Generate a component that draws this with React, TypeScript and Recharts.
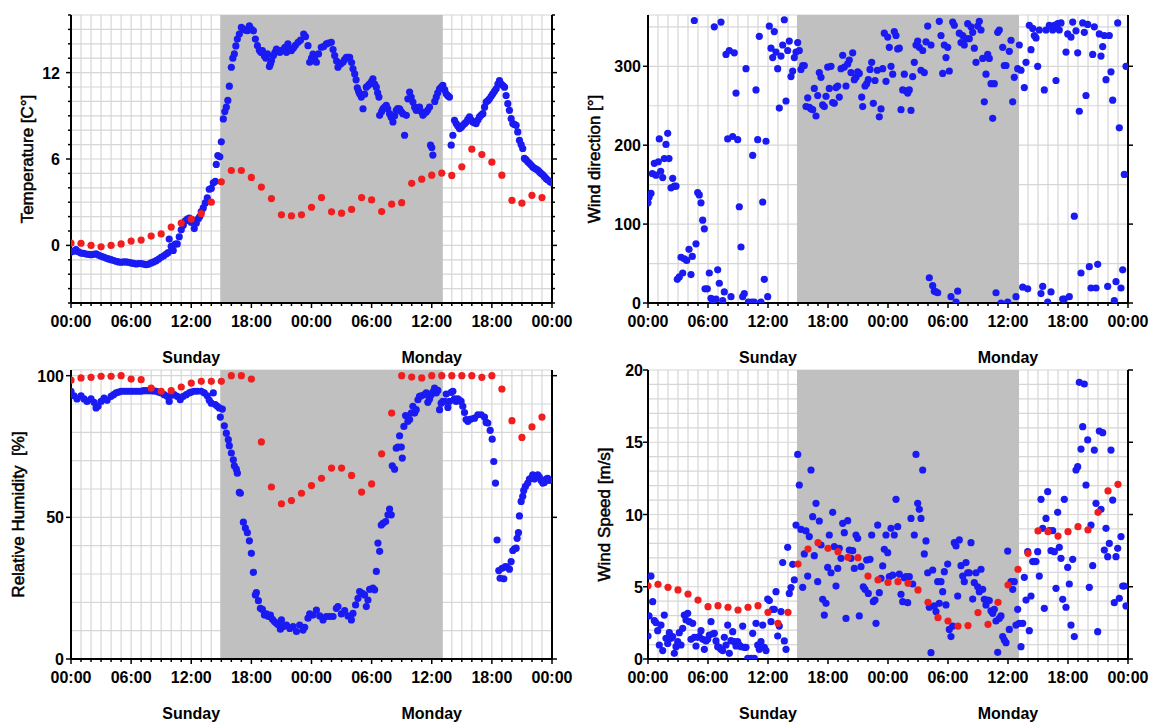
import {
  ScatterChart, Scatter, XAxis, YAxis, CartesianGrid, ReferenceArea, Label,
} from 'recharts';

const FONT = '"Liberation Sans", Arial, Helvetica, sans-serif';
const BLUE = '#1a1af2';
const RED = '#f01e1e';

// time axis: hours since Sunday 00:00
const hourTicks = Array.from({ length: 49 }, (_, i) => i);
const topTicks = [0, 12, 24, 36, 48];
const dayNames = ['Sunday', 'Monday'];
const shadeStart = 14.9;
const shadeEnd = 37.1;

type Pt = [number, number];

// hourly values (red), index = hour
const tempHourly = [
  0.16, 0.15, 0.0, -0.1, 0.0, 0.1, 0.3, 0.37, 0.65, 0.8, 1.27, 1.55, 1.82, 2.2, 3.0, 4.42,
  5.2, 5.2, 4.72, 4.05, 3.25, 2.12, 2.05, 2.12, 2.65, 3.32, 2.33, 2.24, 2.5, 3.32, 3.16, 2.35,
  2.86, 2.97, 4.31, 4.6, 4.88, 5.02, 4.86, 5.46, 6.68, 6.31, 5.78, 4.88, 3.13, 2.93, 3.48, 3.32,
];
const humHourly = [
  98.4, 99.2, 99.4, 99.8, 99.8, 100, 98.8, 98.6, 95.6, 94.5, 94.7, 96, 97.4, 98, 98, 98,
  100, 100, 98.8, 76.6, 60.7, 54.8, 55.9, 58.5, 61.2, 63.8, 67.4, 67.4, 64.8, 58.9, 61.8, 72.4,
  86.8, 100, 99.5, 99.2, 100, 100, 100, 100, 100, 99.4, 100, 95.3, 84.1, 78.2, 81.9, 85.4,
];
const windHourly = [
  5.07, 5.17, 4.96, 4.78, 4.5, 4.08, 3.62, 3.69, 3.58, 3.39, 3.58, 3.69, 3.23, 2.47, 3.23, 6.57,
  7.61, 8.05, 7.66, 7.43, 7.04, 7.01, 5.74, 5.47, 5.3, 5.35, 5.24, 4.78, 3.92, 2.86, 2.63, 2.28,
  2.31, 3.21, 2.4, 3.92, 5.12, 6.21, 7.31, 8.86, 8.81, 8.51, 8.81, 9.16, 8.93, 10.15, 11.63, 12.09,
];

// station readings (blue), [hour, value]
const tempFine: Pt[] = [
  [0, -0.46], [0.25, -0.4], [0.5, -0.3], [0.75, -0.45], [1, -0.53], [1.25, -0.55], [1.5, -0.6], [1.75, -0.62],
  [2, -0.65], [2.25, -0.62], [2.5, -0.58], [2.75, -0.68], [3, -0.76], [3.25, -0.82], [3.5, -0.88], [3.75, -0.94],
  [4, -0.99], [4.25, -1.05], [4.5, -1.1], [4.75, -1.15], [5, -1.17], [5.25, -1.15], [5.5, -1.15], [5.75, -1.18],
  [6, -1.22], [6.25, -1.25], [6.5, -1.29], [6.75, -1.26], [7, -1.27], [7.25, -1.3], [7.5, -1.34], [7.75, -1.3],
  [8, -1.22], [8.25, -1.15], [8.5, -1.06], [8.75, -0.95], [9, -0.83], [9.25, -0.72], [9.5, -0.6], [9.7, -0.5],
  [9.8, 0.44], [10, -0.07], [10.2, -0.35], [10.4, 0.09], [10.6, 0.1], [10.8, 0.6], [11, 1.08], [11.2, 1.4],
  [11.4, 1.7], [11.6, 1.82], [11.8, 1.9], [12, 1.59], [12.15, 1.75], [12.3, 1.17], [12.5, 1.54], [12.7, 1.85],
  [12.85, 2.0], [13, 2.35], [13.2, 2.6], [13.4, 2.95], [13.6, 3.3], [13.8, 3.9], [14, 3.96], [14.2, 4.35],
  [14.4, 4.45], [14.5, 5.62], [14.65, 6.24], [14.85, 6.15], [15, 7.19], [15.2, 8.78], [15.35, 9.3], [15.5, 9.6],
  [15.65, 10.07], [15.8, 11.06], [16, 12.37], [16.15, 13.0], [16.3, 13.3], [16.45, 13.85], [16.6, 14.33], [16.8, 14.68],
  [17, 15.14], [17.2, 15.02], [17.4, 14.95], [17.6, 14.91], [17.8, 15.25], [18, 15.02], [18.2, 14.9], [18.4, 14.33],
  [18.6, 13.87], [18.8, 13.55], [18.95, 13.41], [19.1, 13.53], [19.3, 13.15], [19.45, 13.0], [19.6, 13.3], [19.8, 12.42],
  [19.9, 12.6], [20, 12.83], [20.2, 13.18], [20.35, 13.4], [20.5, 13.64], [20.7, 13.5], [20.85, 13.41], [21, 13.53],
  [21.2, 13.6], [21.35, 13.76], [21.5, 13.41], [21.65, 14.0], [21.8, 13.7], [22, 13.53], [22.2, 13.7], [22.4, 13.9],
  [22.66, 14.1], [22.9, 14.25], [23.22, 14.68], [23.4, 14.5], [23.65, 13.87], [23.82, 12.72], [24, 13.0], [24.15, 13.29],
  [24.3, 13.0], [24.49, 12.72], [24.7, 13.3], [24.98, 13.76], [25.2, 13.8], [25.48, 13.99], [25.7, 14.05], [25.98, 14.1],
  [26.15, 13.6], [26.31, 13.18], [26.5, 12.8], [26.64, 12.37], [26.9, 12.6], [27.14, 12.72], [27.3, 12.9], [27.48, 13.06],
  [27.65, 13.06], [27.81, 13.06], [28, 12.7], [28.14, 12.26], [28.31, 11.91], [28.45, 11.5], [28.57, 10.94], [28.7, 10.7],
  [28.8, 10.53], [28.97, 10.3], [29.14, 9.49], [29.3, 10.5], [29.47, 10.99], [29.65, 11.1], [29.8, 11.22], [30, 11.4],
  [30.13, 11.57], [30.3, 11.2], [30.47, 10.99], [30.6, 10.6], [30.73, 10.3], [30.8, 9.03], [31, 9.3], [31.13, 9.49],
  [31.3, 9.6], [31.46, 9.72], [31.6, 9.5], [31.79, 9.15], [31.95, 8.9], [32.13, 8.57], [32.3, 9.0], [32.46, 9.38],
  [32.6, 9.5], [32.79, 9.49], [32.95, 9.3], [33.12, 9.15], [33.29, 7.65], [33.46, 9.03], [33.62, 10.18], [33.79, 10.65],
  [33.95, 10.3], [34.12, 9.95], [34.3, 9.6], [34.45, 9.38], [34.6, 9.5], [34.78, 9.61], [34.95, 9.3], [35.12, 9.03],
  [35.3, 9.2], [35.45, 9.26], [35.6, 9.4], [35.78, 9.61], [35.88, 6.96], [36, 6.8], [36.11, 6.27], [36.3, 10.0],
  [36.45, 10.3], [36.6, 10.6], [36.78, 10.88], [36.95, 11.0], [37.11, 11.11], [37.3, 10.8], [37.44, 10.53], [37.6, 10.4],
  [37.77, 10.3], [37.94, 6.96], [38.11, 7.65], [38.27, 8.69], [38.44, 8.46], [38.6, 8.3], [38.77, 8.11], [38.95, 8.2],
  [39.1, 8.34], [39.27, 8.45], [39.44, 8.57], [39.6, 8.75], [39.77, 8.92], [39.95, 8.7], [40.1, 8.57], [40.27, 8.5],
  [40.43, 8.46], [40.6, 8.7], [40.76, 8.92], [40.93, 9.05], [41.1, 9.15], [41.27, 9.6], [41.43, 9.95], [41.6, 10.05],
  [41.76, 10.18], [41.93, 10.35], [42.09, 10.53], [42.26, 10.7], [42.43, 10.88], [42.6, 11.2], [42.76, 11.45], [42.92, 11.22],
  [43.1, 11.1], [43.26, 10.99], [43.42, 10.41], [43.59, 9.84], [43.75, 9.38], [43.92, 8.8], [44.09, 8.46], [44.25, 8.4],
  [44.42, 8.34], [44.58, 7.88], [44.75, 7.3], [44.92, 7.0], [45.08, 6.73], [45.25, 6.04], [45.4, 5.95], [45.58, 5.81],
  [45.75, 5.7], [45.91, 5.58], [46.08, 5.45], [46.25, 5.35], [46.4, 5.3], [46.58, 5.23], [46.75, 5.1], [46.91, 5.0],
  [47.08, 4.9], [47.24, 4.77], [47.4, 4.65], [47.57, 4.54], [47.8, 4.42], [48, 4.35],
];

const humFine: Pt[] = [
  [0, 94.5], [0.3, 92.9], [0.6, 91.8], [1, 92.9], [1.3, 91.8], [1.6, 90.9], [2, 91.8], [2.3, 90.6],
  [2.5, 88.6], [2.7, 89.2], [3, 90.9], [3.3, 92.1], [3.6, 91.3], [4, 92.7], [4.25, 93.3], [4.5, 93.9],
  [4.75, 94.2], [5, 94.5], [5.25, 94.5], [5.5, 94.5], [5.75, 94.5], [6, 94.5], [6.25, 94.5], [6.5, 94.5],
  [6.75, 94.5], [7, 94.5], [7.25, 94.7], [7.5, 94.7], [7.75, 94.7], [8, 94.7], [8.25, 94.6], [8.5, 94.5],
  [8.75, 94.2], [9, 93.9], [9.3, 93.3], [9.6, 92.7], [9.8, 90.9], [10, 93.1], [10.3, 93.3], [10.6, 92.7],
  [10.9, 91.5], [11.2, 92.7], [11.5, 93.3], [11.8, 93.9], [12, 94.2], [12.3, 94.5], [12.6, 94.5], [13, 94.5],
  [13.3, 93.9], [13.6, 92.9], [13.8, 91.3], [14, 90.3], [14.2, 93.9], [14.4, 89.8], [14.6, 89.2], [14.8, 88.6],
  [14.9, 85.4], [15.1, 88.2], [15.3, 82.3], [15.5, 79.7], [15.7, 77.4], [15.8, 75.3], [16, 72.7], [16.2, 70.3],
  [16.3, 68.2], [16.5, 67], [16.6, 65.6], [16.8, 58.8], [16.9, 58.5], [17.2, 48.3], [17.4, 46.2], [17.6, 44.6],
  [17.8, 41.7], [18, 37.3], [18.2, 30.6], [18.4, 22.6], [18.5, 23.4], [18.7, 20.6], [18.9, 17.9], [19.1, 17.5],
  [19.3, 15.5], [19.5, 15.9], [19.7, 15], [19.9, 15.5], [20.1, 14], [20.3, 13.2], [20.5, 12.6], [20.7, 12],
  [20.9, 10.5], [21, 13.8], [21.16, 11.4], [21.5, 12], [21.83, 10.8], [22.16, 11.4], [22.5, 9.7], [22.82, 12],
  [23.16, 10.2], [23.32, 11.2], [23.65, 14.4], [23.82, 15.9], [24.15, 15.5], [24.49, 17.3], [24.82, 15.2], [25.15, 13.8],
  [25.48, 15], [25.81, 15], [26.15, 15], [26.48, 17.9], [26.64, 18.5], [26.98, 15.9], [27.31, 17.1], [27.64, 15.2],
  [27.98, 13.8], [28.14, 16.1], [28.4, 19.1], [28.64, 21.4], [28.8, 23.8], [29.07, 23.2], [29.3, 22.6], [29.47, 18.5],
  [29.63, 20.8], [29.8, 24.6], [30.13, 25], [30.3, 24.4], [30.47, 30.9], [30.63, 40.9], [30.8, 38], [30.96, 47.3],
  [31.13, 47.9], [31.4, 48.5], [31.63, 50.9], [31.79, 52.9], [31.96, 50.9], [32.06, 68.2], [32.29, 67], [32.46, 74.4],
  [32.62, 74.8], [32.79, 78.8], [32.96, 74.8], [33.06, 70.9], [33.22, 82.1], [33.39, 85.9], [33.62, 83.9], [33.79, 84.5],
  [33.95, 86.8], [34.12, 89.2], [34.29, 86.8], [34.45, 88], [34.62, 91.5], [34.78, 92.7], [34.95, 92.9], [35.28, 93.3],
  [35.45, 93.9], [35.61, 90.6], [35.78, 91.8], [35.95, 93.3], [36.11, 94.2], [36.28, 95.6], [36.45, 93.9], [36.61, 94.8],
  [36.78, 88], [36.94, 90.3], [37.11, 90.9], [37.28, 90.9], [37.44, 93.5], [37.61, 88.8], [37.77, 90.9], [37.94, 94.1],
  [38.11, 94.5], [38.27, 91.8], [38.44, 90.9], [38.6, 91.8], [38.77, 91.3], [38.93, 90.9], [39.1, 89.2], [39.27, 87],
  [39.43, 84.5], [39.6, 83.9], [39.77, 84.5], [39.93, 84.7], [40.27, 85], [40.6, 86.2], [40.93, 86.2], [41.26, 85.4],
  [41.43, 83.5], [41.59, 83.3], [41.83, 80.7], [42.03, 77.6], [42.19, 69.7], [42.36, 62.1], [42.52, 42], [42.69, 31.2],
  [42.82, 28.5], [43.02, 32], [43.19, 28.3], [43.35, 32.6], [43.52, 32.4], [43.75, 31.7], [43.92, 34.4], [44.09, 38.3],
  [44.25, 38.9], [44.42, 39.1], [44.52, 42.6], [44.65, 44.6], [44.75, 50.5], [44.92, 55.6], [45.08, 57.4], [45.18, 59.5],
  [45.35, 60.9], [45.58, 62.1], [45.75, 63.5], [45.91, 63.8], [46.08, 65], [46.25, 63.5], [46.41, 64.4], [46.58, 65],
  [46.74, 64.2], [46.91, 63], [47.08, 62.1], [47.24, 62.3], [47.41, 63.5], [47.57, 63.8], [47.74, 63],
];

const dirFine: Pt[] = [
  [0, 127], [0.1, 134], [0.3, 139], [0.43, 164], [0.63, 177], [0.8, 162], [1.03, 179], [1.13, 208],
  [1.27, 167], [1.47, 159], [1.63, 183], [1.8, 201], [1.97, 215], [2.1, 183], [2.3, 146], [2.47, 158],
  [2.63, 148], [2.8, 148], [2.93, 30], [3.13, 33], [3.3, 58], [3.47, 38], [3.63, 56], [3.87, 54],
  [4.1, 68], [4.3, 36], [4.43, 59], [4.63, 358], [4.8, 75], [4.97, 140], [5.13, 137], [5.3, 127],
  [5.47, 105], [5.63, 94], [5.7, 18], [5.93, 18], [6.13, 38], [6.3, 6], [6.47, 3], [6.63, 350],
  [6.8, 5], [6.97, 42], [7.13, 25], [7.3, 356], [7.47, 3], [7.63, 14], [7.8, 315], [7.97, 208],
  [8.13, 320], [8.3, 8], [8.47, 211], [8.63, 317], [8.8, 266], [8.97, 207], [9.13, 122], [9.3, 71],
  [9.47, 8], [9.63, 12], [9.8, 297], [10.03, 1], [10.37, 1], [10.47, 187], [10.63, 1], [10.8, 270],
  [10.97, 207], [11.13, 338], [11.3, 1], [11.47, 128], [11.63, 30], [11.8, 205], [11.97, 8], [12.13, 351],
  [12.3, 323], [12.47, 311], [12.63, 344], [12.8, 318], [12.97, 297], [13.13, 247], [13.3, 313], [13.47, 327],
  [13.63, 359], [13.8, 256], [13.97, 320], [14.13, 332], [14.3, 287], [14.47, 294], [14.63, 311], [14.8, 318],
  [14.97, 330], [15.13, 320], [15.3, 296], [15.47, 301], [15.63, 301], [15.8, 249], [15.97, 260], [16.13, 248],
  [16.3, 246], [16.47, 245], [16.63, 272], [16.8, 237], [16.97, 263], [17.13, 292], [17.3, 286], [17.47, 251],
  [17.63, 249], [17.8, 262], [17.97, 299], [18.13, 272], [18.3, 300], [18.47, 254], [18.63, 253], [18.8, 273],
  [18.97, 275], [19.13, 261], [19.3, 297], [19.47, 314], [19.63, 299], [19.8, 275], [19.97, 303], [20.13, 308],
  [20.3, 292], [20.47, 317], [20.63, 283], [20.8, 286], [20.97, 293], [21.13, 291], [21.37, 261], [21.47, 249],
  [21.7, 275], [21.87, 278], [22.03, 283], [22.2, 296], [22.37, 305], [22.53, 253], [22.7, 282], [22.93, 295],
  [23.13, 236], [23.3, 246], [23.47, 297], [23.63, 342], [23.8, 281], [23.97, 337], [24.13, 324], [24.3, 300],
  [24.47, 290], [24.63, 344], [24.8, 339], [24.97, 322], [25.13, 323], [25.3, 245], [25.47, 270], [25.63, 290],
  [25.8, 269], [25.97, 266], [26.13, 270], [26.3, 244], [26.47, 287], [26.63, 305], [26.8, 327], [26.97, 332],
  [27.13, 324], [27.3, 295], [27.47, 320], [27.63, 292], [27.8, 331], [27.97, 351], [28.13, 32], [28.3, 327],
  [28.47, 22], [28.63, 15], [28.8, 14], [28.97, 13], [29.13, 357], [29.3, 339], [29.47, 291], [29.63, 327],
  [29.8, 311], [29.97, 324], [30.13, 294], [30.3, 8], [30.47, 356], [30.63, 352], [30.8, 1], [30.97, 15],
  [31.13, 342], [31.3, 330], [31.47, 339], [31.63, 327], [31.8, 335], [31.97, 354], [32.13, 335], [32.3, 350],
  [32.47, 343], [32.63, 323], [32.8, 305], [32.97, 351], [33.13, 357], [33.3, 346], [33.47, 310], [33.63, 255],
  [33.8, 290], [33.97, 315], [34.13, 310], [34.3, 278], [34.47, 234], [34.63, 278], [34.8, 13], [34.97, 343],
  [35.13, 346], [35.3, 0], [35.47, 324], [35.63, 301], [35.8, 301], [35.97, 1], [36.13, 319], [36.3, 333],
  [36.47, 255], [36.63, 286], [36.8, 8], [36.97, 297], [37.13, 327], [37.3, 295], [37.47, 20], [37.63, 273],
  [37.8, 305], [37.97, 18], [38.13, 352], [38.3, 321], [38.47, 348], [38.63, 339], [38.8, 336], [38.97, 300],
  [39.13, 346], [39.3, 12], [39.47, 21], [39.63, 270], [39.8, 346], [39.97, 1], [40.13, 352], [40.3, 14],
  [40.47, 346], [40.63, 352], [40.8, 282], [40.97, 354], [41.13, 346], [41.3, 355], [41.47, 5], [41.63, 5],
  [41.8, 318], [41.97, 341], [42.13, 8], [42.3, 337], [42.47, 356], [42.63, 110], [42.8, 345], [42.97, 317],
  [43.13, 243], [43.3, 38], [43.47, 355], [43.63, 343], [43.8, 263], [43.97, 353], [44.13, 46], [44.3, 19],
  [44.47, 315], [44.63, 350], [44.8, 19], [44.97, 49], [45.13, 341], [45.3, 313], [45.47, 325], [45.63, 339],
  [45.8, 283], [45.97, 21], [46.13, 339], [46.3, 293], [46.47, 257], [46.63, 3], [46.8, 27], [46.97, 355],
  [47.13, 222], [47.3, 19], [47.47, 42], [47.63, 163], [47.8, 300],
];

const windFine: Pt[] = [
  [0, 1.59], [0.1, 2.98], [0.3, 5.74], [0.47, 3.97], [0.63, 2.65], [0.8, 2.51], [0.97, 1.96], [1.13, 0.97],
  [1.3, 2.35], [1.47, 0.58], [1.63, 3.04], [1.8, 1.43], [1.97, 1.08], [2.13, 1.82], [2.3, 1.43], [2.47, 1.55],
  [2.63, 0.39], [2.8, 0.85], [2.97, 1.2], [3.13, 1.82], [3.3, 0.97], [3.47, 2.12], [3.63, 3.04], [3.8, 2.7],
  [3.97, 3.16], [4.13, 2.58], [4.3, 1.36], [4.47, 2.47], [4.63, 1.5], [4.8, 0.9], [4.97, 1.5], [5.13, 1.55],
  [5.3, 1.96], [5.47, 1.36], [5.63, 0.67], [5.8, 1.25], [5.97, 1.36], [6.13, 1.66], [6.3, 2.58], [6.47, 1.73],
  [6.63, 1.78], [6.8, 1.25], [6.97, 0.85], [7.13, 0.81], [7.3, 0.67], [7.47, 0.58], [7.63, 1.5], [7.8, 0.97],
  [7.97, 2.35], [8.13, 0.39], [8.3, 1.27], [8.47, 1.89], [8.63, 1.2], [8.8, 0.9], [8.97, 1.2], [9.13, 0.97],
  [9.3, 0.85], [9.47, 2.28], [9.63, 0.81], [9.8, 0.81], [9.97, 0.05], [10.3, 0.05], [10.47, 1.78], [10.63, 0.05],
  [10.8, 2.47], [10.97, 0.97], [11.13, 0.67], [11.3, 1.2], [11.47, 2.35], [11.63, 0.81], [11.8, 0.58], [11.97, 4.15],
  [12.13, 4.04], [12.3, 2.58], [12.47, 3.44], [12.63, 3.44], [12.8, 4.66], [12.97, 1.59], [13.13, 2.28], [13.3, 3.28],
  [13.47, 6.67], [13.63, 1.25], [13.8, 0.67], [13.97, 7.73], [14.13, 4.54], [14.3, 4.94], [14.47, 6.55], [14.63, 5.47],
  [14.8, 9.27], [14.97, 14.16], [15.13, 12.04], [15.3, 8.97], [15.47, 4.96], [15.63, 7.27], [15.8, 8.86], [15.97, 5.74],
  [16.13, 8.47], [16.3, 13.08], [16.47, 9.85], [16.63, 7.15], [16.8, 10.77], [16.97, 5.35], [17.13, 9.55], [17.3, 7.89],
  [17.47, 4.13], [17.63, 3.04], [17.8, 3.85], [17.97, 6.34], [18.13, 8.58], [18.3, 5.97], [18.47, 10.15], [18.63, 7.77],
  [18.8, 5.05], [18.97, 6.27], [19.13, 7.66], [19.3, 6.97], [19.47, 9.39], [19.63, 8.74], [19.8, 2.81], [19.97, 9.57],
  [20.13, 7.54], [20.3, 6.97], [20.47, 7.5], [20.63, 6.27], [20.8, 8.58], [20.97, 8.35], [21.13, 2.98], [21.3, 6.39],
  [21.53, 5.0], [21.7, 4.82], [21.87, 6.85], [22.03, 4.54], [22.2, 6.9], [22.37, 8.58], [22.53, 3.97], [22.7, 4.08],
  [22.8, 2.47], [22.97, 9.27], [23.13, 4.59], [23.3, 5.58], [23.47, 6.44], [23.63, 7.59], [23.8, 8.58], [23.97, 7.36],
  [24.13, 5.7], [24.3, 9.04], [24.47, 5.81], [24.63, 8.58], [24.8, 11.05], [24.97, 9.16], [25.13, 5.88], [25.3, 4.48],
  [25.47, 3.97], [25.63, 5.63], [25.8, 5.7], [25.97, 3.9], [26.13, 5.7], [26.3, 9.73], [26.47, 5.19], [26.63, 8.58],
  [26.8, 14.16], [26.97, 10.77], [27.13, 10.36], [27.3, 9.73], [27.47, 13.08], [27.63, 7.27], [27.8, 8.17], [27.97, 5.97],
  [28.13, 3.58], [28.3, 0.44], [28.47, 6.16], [28.63, 3.67], [28.8, 3.28], [28.97, 5.35], [29.13, 3.85], [29.3, 5.35],
  [29.47, 4.66], [29.63, 6.04], [29.8, 3.74], [29.97, 6.57], [30.13, 2.05], [30.3, 1.55], [30.47, 2.28], [30.63, 8.05],
  [30.8, 7.82], [30.97, 4.36], [31.13, 8.24], [31.3, 6.46], [31.47, 5.74], [31.63, 5.35], [31.8, 6.67], [31.97, 5.97],
  [32.13, 5.97], [32.3, 8.05], [32.47, 4.15], [32.63, 5.28], [32.8, 5.97], [32.97, 5.0], [33.13, 4.66], [33.3, 6.21],
  [33.47, 4.82], [33.63, 4.13], [33.8, 3.74], [33.97, 4.08], [34.13, 4.04], [34.3, 3.34], [34.47, 3.16], [34.63, 3.44],
  [34.8, 2.63], [34.97, 0.46], [35.13, 2.81], [35.3, 2.98], [35.47, 1.55], [35.63, 1.31], [35.8, 1.13], [35.97, 7.47],
  [36.13, 2.05], [36.3, 5.35], [36.47, 4.82], [36.63, 5.35], [36.8, 2.35], [36.97, 3.44], [37.13, 2.47], [37.3, 0.85],
  [37.47, 2.47], [37.63, 5.65], [37.8, 4.08], [37.97, 7.43], [38.13, 1.96], [38.3, 4.36], [38.47, 6.74], [38.63, 6.74],
  [38.8, 6.74], [38.97, 7.43], [39.13, 5.74], [39.3, 11.05], [39.47, 9.04], [39.63, 3.51], [39.8, 9.73], [39.97, 11.58],
  [40.13, 8.88], [40.3, 7.5], [40.47, 8.88], [40.63, 7.43], [40.8, 4.89], [40.97, 10.15], [41.13, 7.73], [41.3, 6.97],
  [41.47, 4.13], [41.63, 11.05], [41.8, 3.58], [41.97, 6.34], [42.13, 5.19], [42.3, 2.35], [42.47, 6.9], [42.63, 1.55],
  [42.8, 13.08], [42.97, 13.31], [43.13, 19.15], [43.3, 14.53], [43.47, 16.08], [43.63, 19.03], [43.8, 12.04], [43.97, 15.16],
  [44.13, 4.96], [44.3, 9.27], [44.47, 6.46], [44.63, 14.46], [44.8, 10.77], [44.97, 1.89], [45.13, 15.78], [45.3, 10.36],
  [45.47, 15.66], [45.63, 7.54], [45.8, 9.04], [45.97, 7.08], [46.13, 8.0], [46.3, 14.46], [46.47, 11.0], [46.63, 3.9],
  [46.8, 7.08], [46.97, 7.66], [47.13, 4.2], [47.3, 8.47], [47.47, 5.05], [47.63, 5.05], [47.8, 3.67],
];

const range = (from: number, to: number, step: number) =>
  Array.from({ length: Math.round((to - from) / step) + 1 }, (_, i) => from + i * step);

const hhmm = (h: number) => `${String(h % 24).padStart(2, '0')}:00`;

const dot = (color: string) => (p: any) =>
  <circle cx={p.cx} cy={p.cy} r={3.6} fill={color} />;

function BottomTick({ x, y, payload }: any) {
  const h = payload.value as number;
  const major = h % 6 === 0;
  const day = (h - 12) / 24;
  return (
    <g>
      <line x1={x} x2={x} y1={y} y2={y + (major ? 5 : 3)} stroke="#000" strokeWidth={1.5} />
      {major && (
        <text x={x} y={y + 24} textAnchor="middle" fontSize={16} fontWeight="bold" fontFamily={FONT} fill="#000">
          {hhmm(h)}
        </text>
      )}
      {Number.isInteger(day) && dayNames[day] && (
        <text x={x} y={y + 60} textAnchor="middle" fontSize={16} fontWeight="bold" fontFamily={FONT} fill="#000">
          {dayNames[day]}
        </text>
      )}
    </g>
  );
}

function TopTick({ x, y }: any) {
  return <line x1={x} x2={x} y1={y} y2={y - 5} stroke="#000" strokeWidth={1.5} />;
}

function SideTick({ x, y, payload, side, major, minor, gap }: any) {
  const len = major ? 5 : minor ? 3 : 0;
  const dir = side === 'left' ? -1 : 1;
  return (
    <g>
      {len > 0 && <line x1={x} x2={x + dir * len} y1={y} y2={y} stroke="#000" strokeWidth={1.5} />}
      {side === 'left' && major && (
        <text x={x - gap} y={y + 6} textAnchor="end" fontSize={16} fontWeight="bold" fontFamily={FONT} fill="#000">
          {payload.value}
        </text>
      )}
    </g>
  );
}

interface PanelProps {
  left: number;
  top: number;
  width: number;
  height: number;
  leftWidth: number;
  rightWidth: number;
  axisHeight: number;
  bottomMargin: number;
  domain: [number, number];
  yTicks: number[];
  majorTicks: number[];
  minorMarks: boolean;
  label: string;
  labelX: number;
  labelGap: number;
  fine: Pt[];
  hourly?: number[];
}

function Panel(p: PanelProps) {
  const fine = p.fine.map(([t, v]) => ({ t, v }));
  const hourly = p.hourly ? p.hourly.map((v, t) => ({ t, v })) : null;
  const plotTop = 15;
  const plotH = p.height - plotTop - p.bottomMargin - p.axisHeight;
  const axisLine = { stroke: '#000', strokeWidth: 2 };
  const isMajor = (v: number) => p.majorTicks.includes(v);

  return (
    <div style={{ position: 'absolute', left: p.left, top: p.top }}>
      <ScatterChart
        width={p.width}
        height={p.height}
        margin={{ top: plotTop, right: 4, bottom: p.bottomMargin, left: 0 }}
      >
        <ReferenceArea x1={shadeStart} x2={shadeEnd} fill="#c0c0c0" fillOpacity={1} stroke="none" />
        <CartesianGrid stroke="#d6d6d6" strokeWidth={1.2} />
        <XAxis
          dataKey="t" type="number" domain={[0, 48]} ticks={hourTicks} interval={0} allowDataOverflow
          height={p.axisHeight} tickSize={0} tickMargin={0} tickLine={false} axisLine={axisLine}
          tick={(t: any) => <BottomTick {...t} />}
        />
        <XAxis
          xAxisId="top" orientation="top" dataKey="t" type="number" domain={[0, 48]} ticks={topTicks}
          interval={0} allowDataOverflow height={0} tickSize={0} tickMargin={0} tickLine={false}
          axisLine={axisLine} tick={(t: any) => <TopTick {...t} />}
        />
        <YAxis
          dataKey="v" type="number" domain={p.domain} ticks={p.yTicks} interval={0} allowDataOverflow
          width={p.leftWidth} tickSize={0} tickMargin={0} tickLine={false} axisLine={axisLine}
          tick={(t: any) => (
            <SideTick {...t} side="left" major={isMajor(t.payload.value)} minor={p.minorMarks} gap={p.labelGap} />
          )}
        >
          <Label
            content={() => {
              const cy = plotTop + plotH / 2;
              return (
                <text
                  x={p.labelX} y={cy} transform={`rotate(-90 ${p.labelX} ${cy})`} textAnchor="middle"
                  dominantBaseline="central" fontSize={17} fontFamily={FONT} fill="#000"
                  stroke="#000" strokeWidth={0.5} style={{ whiteSpace: 'pre' }}
                >
                  {p.label}
                </text>
              );
            }}
          />
        </YAxis>
        <YAxis
          yAxisId="right" orientation="right" dataKey="v" type="number" domain={p.domain} ticks={p.yTicks}
          interval={0} allowDataOverflow width={p.rightWidth} tickSize={0} tickMargin={0} tickLine={false}
          axisLine={axisLine}
          tick={(t: any) => <SideTick {...t} side="right" major={isMajor(t.payload.value)} minor={p.minorMarks} />}
        />
        <Scatter data={fine} fill={BLUE} isAnimationActive={false} shape={dot(BLUE)} />
        {hourly && <Scatter data={hourly} fill={RED} isAnimationActive={false} shape={dot(RED)} />}
      </ScatterChart>
    </div>
  );
}

export default function App() {
  return (
    <div style={{ position: 'absolute', left: 0, top: 0, width: 1153, height: 724, background: '#fff' }}>
      <Panel
        left={0} top={0} width={576} height={372} leftWidth={71} rightWidth={20} axisHeight={64} bottomMargin={5}
        domain={[-4, 16]} yTicks={range(-4, 16, 1)} majorTicks={[0, 6, 12]} minorMarks
        label="Temperature [C°]" labelX={27} labelGap={11} fine={tempFine} hourly={tempHourly}
      />
      <Panel
        left={576} top={0} width={577} height={372} leftWidth={72} rightWidth={21} axisHeight={64} bottomMargin={5}
        domain={[0, 365]} yTicks={range(0, 350, 50)} majorTicks={[0, 100, 200, 300]} minorMarks={false}
        label="Wind direction [°]" labelX={18} labelGap={7} fine={dirFine}
      />
      <Panel
        left={0} top={355} width={576} height={369} leftWidth={71} rightWidth={20} axisHeight={60} bottomMargin={5}
        domain={[0, 102]} yTicks={range(0, 100, 10)} majorTicks={[0, 50, 100]} minorMarks={false}
        label="Relative Humidity  [%]" labelX={18} labelGap={7} fine={humFine} hourly={humHourly}
      />
      <Panel
        left={576} top={355} width={577} height={369} leftWidth={72} rightWidth={21} axisHeight={60} bottomMargin={5}
        domain={[0, 20]} yTicks={range(0, 20, 1)} majorTicks={[0, 5, 10, 15, 20]} minorMarks={false}
        label="Wind Speed [m/s]" labelX={28} labelGap={5} fine={windFine} hourly={windHourly}
      />
    </div>
  );
}
